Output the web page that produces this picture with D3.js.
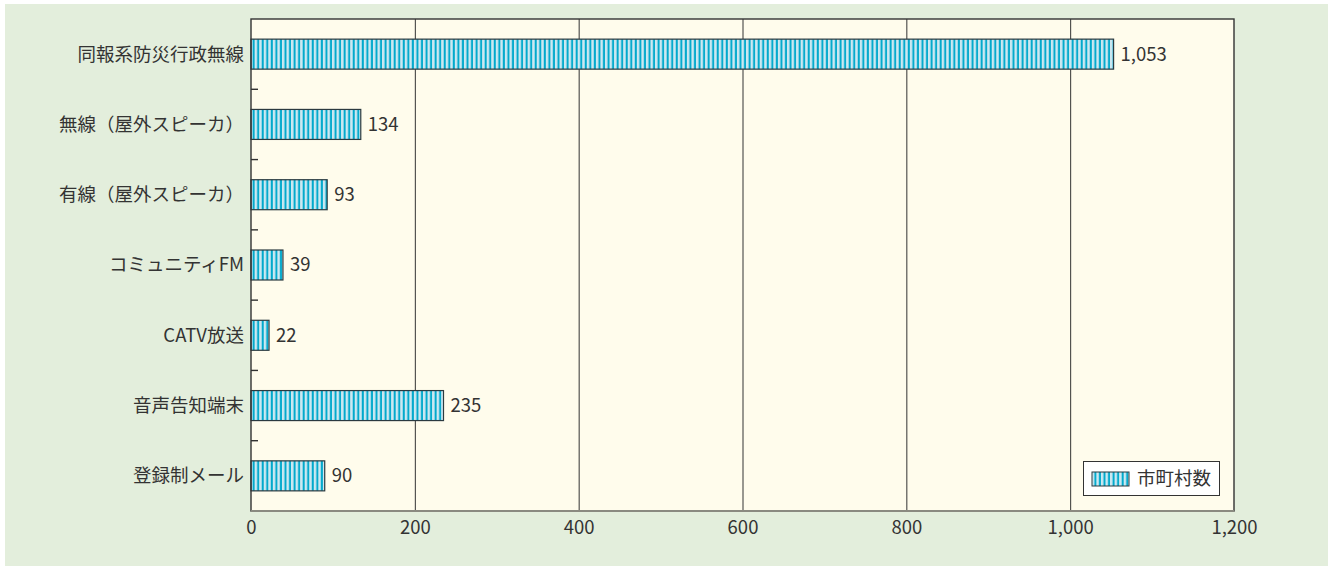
<!DOCTYPE html>
<html><head><meta charset="utf-8">
<script src="https://cdn.jsdelivr.net/npm/d3@7"></script>
<style>
body{margin:0;background:#fff;}
svg{display:block;font-family:"Noto Sans CJK JP","Noto Sans",sans-serif;}
</style></head>
<body><svg id="c" width="1328" height="566"></svg>
<script>
const categories = ["同報系防災行政無線","無線（屋外スピーカ）","有線（屋外スピーカ）","コミュニティFM","CATV放送","音声告知端末","登録制メール"];
const values = [1053,134,93,39,22,235,90];
const xTicks = [0,200,400,600,800,1000,1200];
const seriesName = "市町村数";

const FS = 18.5;
const svg = d3.select("#c");
const L=251,R=1234,T=19,B=511;
svg.append("rect").attr("x",5).attr("y",4).attr("width",1323).attr("height",562).attr("fill","#e3eedc");
const defs = svg.append("defs");
const pat = defs.append("pattern").attr("id","stripe").attr("patternUnits","userSpaceOnUse").attr("width",4.55).attr("height",10).attr("x",L);
pat.append("rect").attr("width",4.55).attr("height",10).attr("fill","#cde8f1");
pat.append("rect").attr("x",1.6).attr("width",2).attr("height",10).attr("fill","#00a9cc");

const x = d3.scaleLinear().domain([0,1200]).range([L,R]);
const y = d3.scaleBand().domain(categories).range([T,B]);

svg.append("rect").attr("x",L).attr("y",T).attr("width",R-L).attr("height",B-T).attr("fill","#fffcec");
svg.append("g").selectAll("line").data(xTicks.slice(1,-1)).join("line")
 .attr("x1",d=>x(d)+0.5).attr("x2",d=>x(d)+0.5).attr("y1",T).attr("y2",B).attr("stroke","#333").attr("stroke-width",1);

const bh=30;
svg.append("g").selectAll("rect").data(values).join("rect")
 .attr("x",L).attr("y",(d,i)=>y(categories[i])+y.bandwidth()/2-bh/2)
 .attr("width",d=>x(d)-L).attr("height",bh)
 .attr("fill","url(#stripe)").attr("stroke","#2b3a40").attr("stroke-width",1.2);
svg.append("g").selectAll("text").data(values).join("text")
 .attr("x",d=>x(d)+7).attr("y",(d,i)=>y(categories[i])+y.bandwidth()/2)
 .attr("dy","0.35em").attr("font-size",FS).attr("fill","#333")
 .text(d=>d3.format(",")(d));

svg.append("rect").attr("x",L).attr("y",T).attr("width",R-L).attr("height",B-T).attr("fill","none").attr("stroke","#333").attr("stroke-width",1.4);
svg.append("line").attr("x1",L).attr("x2",R).attr("y1",B).attr("y2",B).attr("stroke","#8a8a80").attr("stroke-width",2);

const yAxis = svg.append("g").attr("transform",`translate(${L},0)`);
yAxis.selectAll("line.tk").data(categories.slice(1)).join("line").attr("class","tk")
 .attr("x1",0).attr("x2",7).attr("y1",d=>y(d)).attr("y2",d=>y(d)).attr("stroke","#333").attr("stroke-width",1.4);
yAxis.selectAll("text").data(categories).join("text")
 .attr("x",-7).attr("y",d=>y(d)+y.bandwidth()/2).attr("dy","0.35em").attr("text-anchor","end")
 .attr("font-size",FS).attr("fill","#333").text(d=>d);

const xa = svg.append("g").attr("transform",`translate(0,${B})`)
 .call(d3.axisBottom(x).tickValues(xTicks).tickFormat(d3.format(",")).tickSize(0).tickPadding(10));
xa.select(".domain").remove();
xa.selectAll("text").attr("font-size",FS).attr("fill","#333").attr("font-family","'Noto Sans CJK JP','Noto Sans',sans-serif");

const lg = svg.append("g");
lg.append("rect").attr("x",1083.5).attr("y",461.5).attr("width",136).attr("height",34).attr("fill","#fff").attr("stroke","#333").attr("stroke-width",1);
lg.append("rect").attr("x",1092).attr("y",472).attr("width",37).attr("height",14).attr("fill","url(#stripe)").attr("stroke","#2b3a40").attr("stroke-width",1);
lg.append("text").attr("x",1137).attr("y",479).attr("dy","0.35em").attr("font-size",FS).attr("fill","#333").text(seriesName);
</script></body></html>
